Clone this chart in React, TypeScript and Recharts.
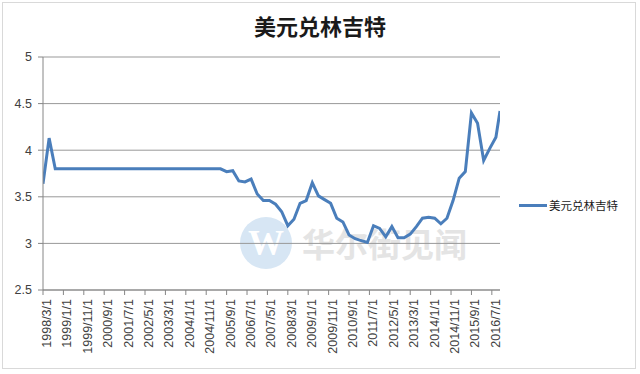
import React from 'react';
import { LineChart, Line, XAxis, YAxis, CartesianGrid } from 'recharts';

const TITLE = '美元兑林吉特';
const SERIES_NAME = '美元兑林吉特';
const WATERMARK = '华尔街见闻';

const dates = [
  '1998/3/1', '1998/6/1', '1998/9/1', '1998/12/1',
  '1999/3/1', '1999/6/1', '1999/9/1', '1999/12/1',
  '2000/3/1', '2000/6/1', '2000/9/1', '2000/12/1',
  '2001/3/1', '2001/6/1', '2001/9/1', '2001/12/1',
  '2002/3/1', '2002/6/1', '2002/9/1', '2002/12/1',
  '2003/3/1', '2003/6/1', '2003/9/1', '2003/12/1',
  '2004/3/1', '2004/6/1', '2004/9/1', '2004/12/1',
  '2005/3/1', '2005/6/1', '2005/9/1', '2005/12/1',
  '2006/3/1', '2006/6/1', '2006/9/1', '2006/12/1',
  '2007/3/1', '2007/6/1', '2007/9/1', '2007/12/1',
  '2008/3/1', '2008/6/1', '2008/9/1', '2008/12/1',
  '2009/3/1', '2009/6/1', '2009/9/1', '2009/12/1',
  '2010/3/1', '2010/6/1', '2010/9/1', '2010/12/1',
  '2011/3/1', '2011/6/1', '2011/9/1', '2011/12/1',
  '2012/3/1', '2012/6/1', '2012/9/1', '2012/12/1',
  '2013/3/1', '2013/6/1', '2013/9/1', '2013/12/1',
  '2014/3/1', '2014/6/1', '2014/9/1', '2014/12/1',
  '2015/3/1', '2015/6/1', '2015/9/1', '2015/12/1',
  '2016/3/1', '2016/6/1', '2016/9/1', '2016/11/1',
];

const values = [
  3.64, 4.13, 3.80, 3.80,
  3.80, 3.80, 3.80, 3.80,
  3.80, 3.80, 3.80, 3.80,
  3.80, 3.80, 3.80, 3.80,
  3.80, 3.80, 3.80, 3.80,
  3.80, 3.80, 3.80, 3.80,
  3.80, 3.80, 3.80, 3.80,
  3.80, 3.80, 3.77, 3.78,
  3.67, 3.66, 3.69, 3.53,
  3.46, 3.46, 3.42, 3.34,
  3.19, 3.26, 3.43, 3.46,
  3.65, 3.51, 3.47, 3.43,
  3.27, 3.23, 3.09, 3.05,
  3.03, 3.01, 3.19, 3.16,
  3.07, 3.18, 3.06, 3.06,
  3.10, 3.18, 3.27, 3.28,
  3.27, 3.21, 3.27, 3.46,
  3.70, 3.77, 4.40, 4.29,
  3.89, 4.02, 4.14, 4.42,
];

const xTickLabels = [
  '1998/3/1', '1999/1/1', '1999/11/1', '2000/9/1', '2001/7/1', '2002/5/1',
  '2003/3/1', '2004/1/1', '2004/11/1', '2005/9/1', '2006/7/1', '2007/5/1',
  '2008/3/1', '2009/1/1', '2009/11/1', '2010/9/1', '2011/7/1', '2012/5/1',
  '2013/3/1', '2014/1/1', '2014/11/1', '2015/9/1', '2016/7/1',
];

const yTicks = [2.5, 3, 3.5, 4, 4.5, 5];

const LINE_COLOR = '#4a7ebb';
const AXIS_COLOR = '#868686';
const TEXT_COLOR = '#404040';
const LATIN_FONT = '"Liberation Sans", Arial, sans-serif';
const CJK_FONT = '"Noto Sans CJK SC", "Noto Sans", sans-serif';

const monthIndex = (s: string) => {
  const [y, m] = s.split('/').map(Number);
  return (y - 1998) * 12 + (m - 3);
};

const data = dates.map((d, i) => ({ date: d, m: monthIndex(d), v: values[i] }));
const xTicks = xTickLabels.map(monthIndex);
const labelByMonth = new Map<number, string>(xTickLabels.map((l) => [monthIndex(l), l]));
const xMax = monthIndex(dates[dates.length - 1]);

const RotTick = (props: any) => {
  const { x, y, payload } = props;
  const label = labelByMonth.get(payload.value) ?? '';
  return (
    <g transform={`translate(${x},${y})`}>
      <text
        transform="rotate(-90)"
        x={0}
        y={8}
        textAnchor="end"
        fill={TEXT_COLOR}
        fontSize={12.5}
        fontFamily={LATIN_FONT}
      >
        {label}
      </text>
    </g>
  );
};

export default function App() {
  return (
    <div style={{ position: 'absolute', left: 0, top: 0, width: 640, height: 374, background: '#fff', overflow: 'hidden' }}>
      <div
        style={{
          position: 'absolute', left: 2, top: 2, width: 634, height: 367,
          border: '1px solid #d9d9d9', boxSizing: 'border-box',
        }}
      />
      <div
        style={{
          position: 'absolute', left: 0, top: 8, width: 640, height: 34, lineHeight: '34px',
          textAlign: 'center', fontFamily: CJK_FONT, fontSize: 22, fontWeight: 700, color: '#1a1a1a',
        }}
      >
        {TITLE}
      </div>
      {/* watermark */}
      <div
        style={{
          position: 'absolute', left: 240, top: 217, width: 52, height: 52, borderRadius: 26,
          background: '#d7e6f4', color: '#ffffff', fontFamily: 'serif', fontWeight: 700,
          fontSize: 36, lineHeight: '52px', textAlign: 'center',
        }}
      >
        W
      </div>
      <div
        style={{
          position: 'absolute', left: 302, top: 220, height: 46, lineHeight: '46px',
          fontFamily: CJK_FONT, fontWeight: 700, fontSize: 33, color: '#e4e4e4', whiteSpace: 'nowrap',
        }}
      >
        {WATERMARK}
      </div>
      <div style={{ position: 'absolute', left: 0, top: 0 }}>
        <LineChart width={640} height={374} data={data} margin={{ top: 57, right: 140, left: 0, bottom: 0 }}>
          <CartesianGrid horizontal vertical={false} stroke="#999999" />
          <XAxis
            type="number"
            dataKey="m"
            domain={[0, xMax]}
            ticks={xTicks}
            interval={0}
            height={84}
            tickSize={5}
            tickMargin={4}
            stroke={AXIS_COLOR}
            tick={<RotTick />}
            allowDataOverflow
          />
          <YAxis
            type="number"
            domain={[2.5, 5]}
            ticks={yTicks}
            width={43}
            tickSize={5}
            tickMargin={6}
            stroke={AXIS_COLOR}
            tick={{ fill: TEXT_COLOR, fontSize: 12.5, fontFamily: LATIN_FONT }}
          />
          <Line
            type="linear"
            dataKey="v"
            name={SERIES_NAME}
            stroke={LINE_COLOR}
            strokeWidth={3}
            dot={false}
            isAnimationActive={false}
          />
        </LineChart>
      </div>
      <div style={{ position: 'absolute', left: 519, top: 196, display: 'flex', alignItems: 'center', height: 18 }}>
        <div style={{ width: 28, height: 3, background: LINE_COLOR, marginRight: 2 }} />
        <span style={{ fontFamily: CJK_FONT, fontSize: 11.5, color: '#1a1a1a' }}>{SERIES_NAME}</span>
      </div>
    </div>
  );
}
